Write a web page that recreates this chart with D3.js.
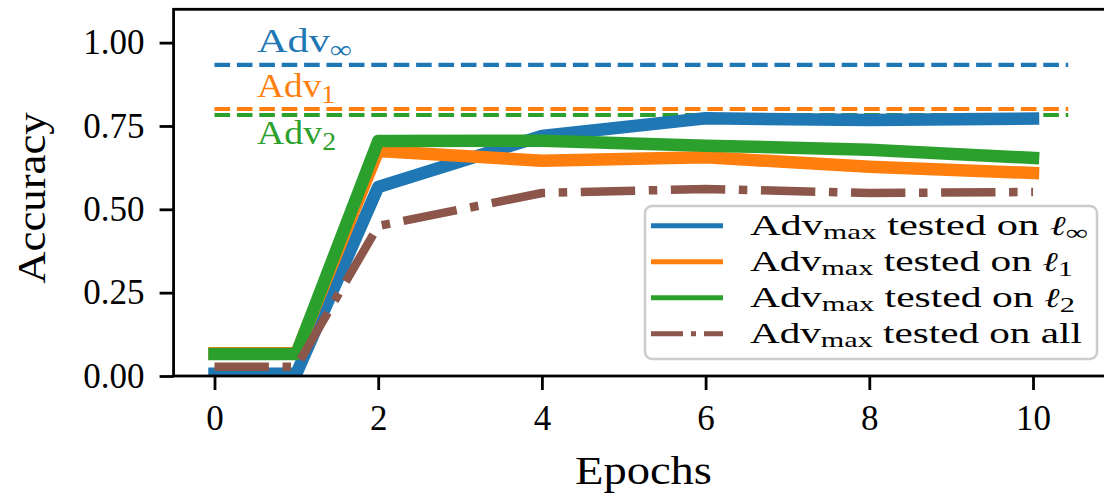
<!DOCTYPE html>
<html>
<head>
<meta charset="utf-8">
<script src="https://cdn.jsdelivr.net/npm/d3@7"></script>
<style>
body { margin: 0; background: #fff; }
text { font-family: "Liberation Serif", "DejaVu Serif", serif; fill: #000; }
</style>
</head>
<body>
<svg id="chart" width="1104" height="498"></svg>
<script>
// data
var epochs = [0, 1, 2, 4, 6, 8, 10];
var accLinf = [0.007, 0.007, 0.567, 0.72, 0.773, 0.768, 0.772];
var accL1 = [0.068, 0.068, 0.675, 0.646, 0.656, 0.628, 0.609];
var accL2 = [0.066, 0.066, 0.705, 0.706, 0.691, 0.679, 0.654];
var accAll = [0.028, 0.028, 0.45, 0.549, 0.561, 0.549, 0.552];

var baseSubs = ["\u221e", "1", "2"];
var baseAcc = [0.933, 0.801, 0.783];

var legendSubs = ["\u221e", "1", "2", null];
var xTicks = [0, 2, 4, 6, 8, 10];
var yTicks = [0, 0.25, 0.5, 0.75, 1.0];

var colors = ["#1f77b4", "#ff7f0e", "#2ca02c", "#8c564b"];

var svg = d3.select("#chart");

var x = d3.scaleLinear().domain([0, 10]).range([214.5, 1033]);
var y = d3.scaleLinear().domain([0, 1.1]).range([376, 9.3]);
var xMin = -0.5, xMax = 11;

var L = x(xMin), R = x(xMax), T = y(1.1), B = y(0);

// stretch a text horizontally (the reference font is wider than what we have)
function fitWidth(t, anchorX, target) {
  var w = t.node().getBBox().width;
  var s = target / w;
  t.attr("transform", "translate(" + anchorX + ",0) scale(" + s + ",1) translate(" + (-anchorX) + ",0)");
}

svg.append("clipPath").attr("id", "clip")
  .append("rect")
  .attr("x", L).attr("y", T).attr("width", R - L).attr("height", B - T);

var plot = svg.append("g").attr("clip-path", "url(#clip)");

// dashed baselines
var dashEnd = 10.43;
baseAcc.forEach(function(v, i) {
  plot.append("line")
    .attr("x1", x(0)).attr("x2", x(dashEnd))
    .attr("y1", y(v)).attr("y2", y(v))
    .style("stroke", colors[i])
    .style("stroke-width", 4.2)
    .style("stroke-dasharray", "15.6,6.8");
});

var line = d3.line()
  .x(function(d) { return x(d[0]); })
  .y(function(d) { return y(d[1]); });

var series = [accLinf, accL1, accL2, accAll];
series.forEach(function(s, i) {
  var pts = epochs.map(function(e, j) { return [e, s[j]]; });
  var p = plot.append("path")
    .datum(pts)
    .attr("d", line)
    .style("fill", "none")
    .style("stroke", colors[i])
    .style("stroke-linejoin", "round");
  if (i < 3) {
    p.style("stroke-width", 12.5).style("stroke-linecap", "square");
  } else {
    p.style("stroke-width", 8.5).style("stroke-linecap", "butt")
     .style("stroke-dasharray", "54.4,13.6,8.5,13.6");
  }
});

// labels for the dashed lines
var labelAt = [[0.52, 0.972], [0.52, 0.837], [0.52, 0.696]];
var labelW = [95, 78, 79];
baseSubs.forEach(function(s, i) {
  var t = svg.append("text")
    .attr("x", x(labelAt[i][0])).attr("y", y(labelAt[i][1]))
    .style("font-size", "34px")
    .style("fill", colors[i]);
  t.append("tspan").text("Adv").style("fill", colors[i]);
  t.append("tspan").text(s).attr("dy", 6)
    .style("font-size", "25px").style("fill", colors[i]);
  fitWidth(t, x(labelAt[i][0]), labelW[i]);
});

// axes
var yAxis = d3.axisLeft(y).tickValues(yTicks)
  .tickFormat(d3.format(".2f")).tickSize(14).tickPadding(15);
var xAxis = d3.axisBottom(x).tickValues(xTicks)
  .tickFormat(d3.format("d")).tickSize(14).tickPadding(15);

var gy = svg.append("g").attr("transform", "translate(" + L + ",0)").call(yAxis);
var gx = svg.append("g").attr("transform", "translate(0," + B + ")").call(xAxis);
[gx, gy].forEach(function(g) {
  g.select(".domain").remove();
  g.selectAll("line").style("stroke", "#000").style("stroke-width", 2.8);
  g.selectAll("text").style("font-size", "35px")
    .style("font-family", "'Liberation Serif', serif").style("fill", "#000");
});

svg.append("rect")
  .attr("x", L).attr("y", T).attr("width", R - L).attr("height", B - T)
  .style("fill", "none").style("stroke", "#000").style("stroke-width", 2.8);

var xl = svg.append("text")
  .attr("x", 643.5).attr("y", 484)
  .attr("text-anchor", "middle")
  .style("font-size", "41px")
  .text("Epochs");
fitWidth(xl, 643.5, 137);

var ylg = svg.append("g").attr("transform", "translate(45,198) rotate(-90)");
var yl = ylg.append("text")
  .attr("x", 0).attr("y", 0)
  .attr("text-anchor", "middle")
  .style("font-size", "41px")
  .text("Accuracy");
fitWidth(yl, 0, 172);

// legend
var lg = svg.append("g");
lg.append("rect")
  .attr("x", 645).attr("y", 206).attr("width", 452).attr("height", 153)
  .attr("rx", 7)
  .style("fill", "#fff").style("fill-opacity", 0.8)
  .style("stroke", "#cccccc").style("stroke-width", 2.5);

var legendW = [338, 323, 325, 332];
legendSubs.forEach(function(s, i) {
  var cy = 225.7 + i * 36;
  var l = lg.append("line")
    .attr("x1", 651).attr("x2", 723).attr("y1", cy).attr("y2", cy)
    .style("stroke", colors[i]).style("stroke-width", 5);
  if (i == 3) l.style("stroke-dasharray", "32,8,5,8");
  var t = lg.append("text")
    .attr("x", 750).attr("y", cy + 9.5)
    .style("font-size", "30px");
  t.append("tspan").text("Adv");
  t.append("tspan").text("max").attr("dy", 4).style("font-size", "22px");
  t.append("tspan").attr("dy", -4).text(" tested on ");
  if (s) {
    t.append("tspan").text("\u2113").style("font-style", "italic")
      .style("font-family", "'DejaVu Serif', serif").style("font-size", "27px");
    t.append("tspan").text(s).attr("dy", 5).style("font-size", "22px");
  } else {
    t.append("tspan").text("all");
  }
  fitWidth(t, 750, legendW[i]);
});
</script>
</body>
</html>
